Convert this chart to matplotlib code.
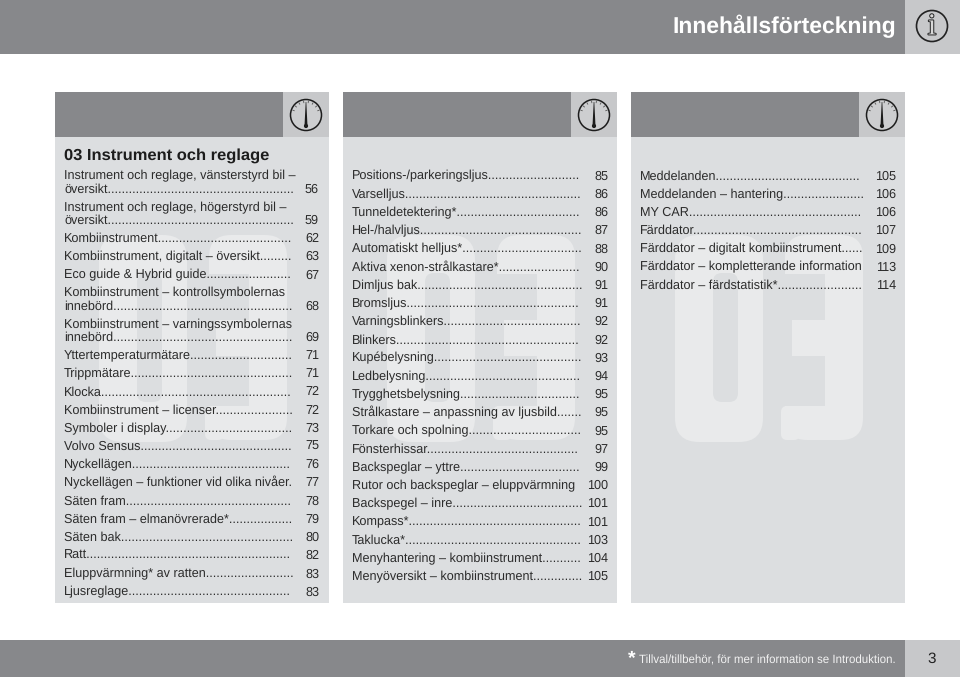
import numpy as np
import matplotlib
matplotlib.use('Agg')
import matplotlib.pyplot as plt
import matplotlib.patheffects as pe
from matplotlib.patches import Rectangle, Circle, FancyBboxPatch, Polygon

plt.rcParams['font.family'] = ['Liberation Sans', 'DejaVu Sans']
plt.rcParams['text.hinting'] = 'none'

page_title = 'Innehållsförteckning'
section_title = '03 Instrument och reglage'
footnote = 'Tillval/tillbehör, för mer information se Introduktion.'
page_number = '3'

labels_1 = ['Instrument och reglage, vänsterstyrd bil –\növersikt', 'Instrument och reglage, högerstyrd bil –\növersikt',
            'Kombiinstrument', 'Kombiinstrument, digitalt – översikt', 'Eco guide & Hybrid guide',
            'Kombiinstrument – kontrollsymbolernas\ninnebörd', 'Kombiinstrument – varningssymbolernas\ninnebörd',
            'Yttertemperaturmätare', 'Trippmätare', 'Klocka', 'Kombiinstrument – licenser', 'Symboler i display',
            'Volvo Sensus', 'Nyckellägen', 'Nyckellägen – funktioner vid olika nivåer', 'Säten fram',
            'Säten fram – elmanövrerade*', 'Säten bak', 'Ratt', 'Eluppvärmning* av ratten', 'Ljusreglage']
pages_1 = [56, 59, 62, 63, 67, 68, 69, 71, 71, 72, 72, 73, 75, 76, 77, 78, 79, 80, 82, 83, 83]

labels_2 = ['Positions-/parkeringsljus', 'Varselljus', 'Tunneldetektering*', 'Hel-/halvljus', 'Automatiskt helljus*',
            'Aktiva xenon-strålkastare*', 'Dimljus bak', 'Bromsljus', 'Varningsblinkers', 'Blinkers', 'Kupébelysning',
            'Ledbelysning', 'Trygghetsbelysning', 'Strålkastare – anpassning av ljusbild', 'Torkare och spolning',
            'Fönsterhissar', 'Backspeglar – yttre', 'Rutor och backspeglar – eluppvärmning', 'Backspegel – inre',
            'Kompass*', 'Taklucka*', 'Menyhantering – kombiinstrument', 'Menyöversikt – kombiinstrument']
pages_2 = [85, 86, 86, 87, 88, 90, 91, 91, 92, 92, 93, 94, 95, 95, 95, 97, 99, 100, 101, 101, 103, 104, 105]

labels_3 = ['Meddelanden', 'Meddelanden – hantering', 'MY CAR', 'Färddator', 'Färddator – digitalt kombiinstrument',
            'Färddator – kompletterande information', 'Färddator – färdstatistik*']
pages_3 = [105, 106, 106, 107, 109, 113, 114]

no_leader = ['Rutor och backspeglar – eluppvärmning', 'Färddator – kompletterande information']

DARK = '#87888b'
TILE = '#c7c8ca'
PANEL = '#dcdee0'
MARK = '#e9eaeb'
INK = '#2b2b2b'
BODY = 9.05

fig = plt.figure(figsize=(9.6, 6.77), dpi=100)
ax = fig.add_axes([0, 0, 1, 1])
ax.set_xlim(0, 960)
ax.set_ylim(677, 0)
ax.axis('off')
renderer = fig.canvas.get_renderer()

probe = ax.text(0, 0, '.' * 40, fontsize=BODY)
dot_w = probe.get_window_extent(renderer).width / 40
probe.remove()


def box(x0, y0, x1, y1, color, z=1):
    ax.add_patch(Rectangle((x0, y0), x1 - x0, y1 - y0, fc=color, ec='none', zorder=z))


def rounded(x0, y0, x1, y1, color, r=12, z=2):
    ax.add_patch(FancyBboxPatch((x0 + r, y0 + r), x1 - x0 - 2 * r, y1 - y0 - 2 * r,
                                boxstyle='round,pad=%d,rounding_size=%d' % (r, r), fc=color, ec='none', zorder=z))


def watermark(dx):
    # big faded 03 behind the text of each panel
    rounded(675 + dx, 235, 763 + dx, 442, MARK, r=24)
    rounded(713 + dx, 273, 738 + dx, 402, PANEL, r=9, z=3)
    rounded(785 + dx, 235, 863 + dx, 440, MARK, r=22)
    box(778 + dx, 274, 825 + dx, 320, PANEL, z=3)
    box(778 + dx, 320, 792 + dx, 356, PANEL, z=3)
    box(778 + dx, 356, 825 + dx, 406, PANEL, z=3)
    box(778 + dx, 406, 781 + dx, 440, PANEL, z=3)
    rounded(781 + dx, 406, 800 + dx, 440, MARK, r=6, z=3)


def gauge(cx, cy):
    ax.add_patch(Circle((cx, cy), 15.5, fc='#cdced0', ec='#1c1c1c', lw=1.1, zorder=4))
    for deg in np.arange(-70, 71, 20):
        a = np.deg2rad(deg)
        ax.plot([cx + 12.5 * np.sin(a), cx + 14 * np.sin(a)], [cy - 12.5 * np.cos(a), cy - 14 * np.cos(a)],
                color='#555555', lw=0.6, zorder=5)
    ax.add_patch(Polygon([(cx - 0.3, cy - 13), (cx + 0.3, cy - 13), (cx + 1.5, cy + 11), (cx - 1.5, cy + 11)],
                         fc='#1c1c1c', ec='none', zorder=5))
    ax.add_patch(Circle((cx, cy + 11), 2.1, fc='#1c1c1c', ec='none', zorder=5))


def column(labels, pages, x, dot_end, page_right):
    y = 179.6
    for label, page in zip(labels, pages):
        lines = label.split('\n')
        # wrapped entries get one text per line, the last one carries the dots
        for line in lines[:-1]:
            ax.text(x, y, line, fontsize=BODY, color=INK, ha='left', va='baseline', zorder=6)
            y += 13
        t = ax.text(x, y, lines[-1], fontsize=BODY, color=INK, ha='left', va='baseline', zorder=6)
        w = t.get_window_extent(renderer).x1
        n = int((dot_end - w) / dot_w)
        if n > 0 and label not in no_leader:
            t.set_text(lines[-1] + '.' * n)
        ax.text(page_right, y, str(page), fontsize=BODY, color=INK, ha='right', va='baseline', zorder=6)
        y += 18.2


# top and bottom bands
box(0, 0, 905, 54, DARK)
box(905, 0, 960, 54, TILE)
box(0, 640, 905, 677, DARK)
box(905, 640, 960, 677, TILE)

for left in [55, 343, 631]:
    box(left, 92, left + 274, 603, PANEL)
    box(left, 92, left + 228, 137, DARK, z=2)
    box(left + 228, 92, left + 274, 137, TILE, z=2)
    gauge(left + 251, 115)
    watermark(left - 631)

ax.text(896, 26, page_title, fontsize=16.5, fontweight='bold', color='white', ha='right', va='center', zorder=6)
ax.add_patch(Circle((932, 26), 15.5, fc=TILE, ec='#222222', lw=1.2, zorder=4))
ax.text(932, 27, 'i', fontsize=22, family='Liberation Serif', color='#d8d8d8', ha='center', va='center', zorder=6,
        path_effects=[pe.withStroke(linewidth=1.4, foreground='#222222')])

ax.text(64, 160, section_title, fontsize=11.85, fontweight='bold', color='#1c1c1c', ha='left', va='baseline', zorder=6)

column(labels_1, pages_1, 64, 294, 319)
column(labels_2, pages_2, 352, 583, 608)
column(labels_3, pages_3, 640, 864, 896)

ax.text(628, 664, '*', fontsize=14, fontweight='bold', color='white', ha='left', va='baseline', zorder=6)
ax.text(896, 663, footnote, fontsize=8.3, color='#f2f2f2', ha='right', va='baseline', zorder=6)
ax.text(932, 663, page_number, fontsize=11, color='#222222', ha='center', va='baseline', zorder=6)

fig.savefig('out.png', dpi=100, facecolor='white')
